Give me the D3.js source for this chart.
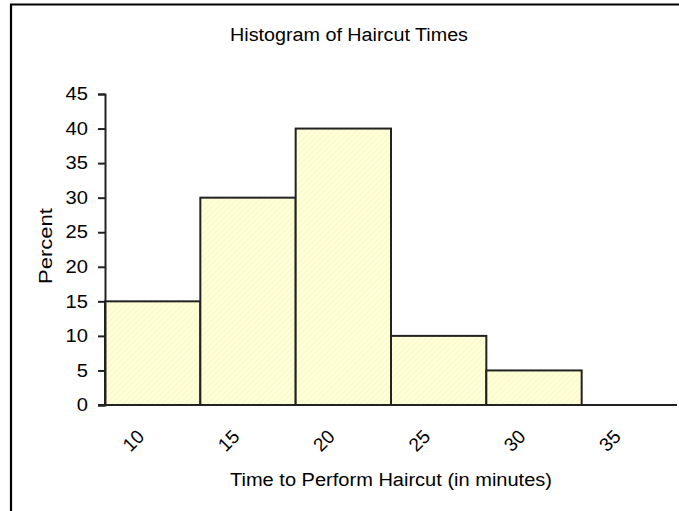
<!DOCTYPE html>
<html>
<head>
<meta charset="utf-8">
<script src="https://cdn.jsdelivr.net/npm/d3@7"></script>
<style>
  body { margin: 0; background: #fff; overflow: hidden; }
  svg { display: block; font-family: "Liberation Sans", Arial, sans-serif; }
</style>
</head>
<body>
<div id="chart"></div>
<script>
// data
const bins = ["10", "15", "20", "25", "30", "35"];
const percents = [15, 30, 40, 10, 5, 0];
const yTicks = [0, 5, 10, 15, 20, 25, 30, 35, 40, 45];

const width = 679, height = 511;
const plot = { left: 105, right: 677, top: 94, bottom: 405 };
const ink = "#222";

const svg = d3.select("#chart").append("svg")
    .attr("width", width)
    .attr("height", height);

// hatch fill for bars
const pat = svg.append("defs").append("pattern")
    .attr("id", "hatch")
    .attr("width", 4)
    .attr("height", 4)
    .attr("patternUnits", "userSpaceOnUse")
    .attr("patternTransform", "rotate(45)");
pat.append("rect").attr("width", 4).attr("height", 4).attr("fill", "#ffffd6");
pat.append("line")
    .attr("x1", 0).attr("y1", 0).attr("x2", 0).attr("y2", 4)
    .attr("stroke", "#f6f2c6")
    .attr("stroke-width", 1.2);

// frame: only the top and left edges fall inside the picture
svg.append("path")
    .attr("d", `M11,${height} V4.5 H${width}`)
    .attr("fill", "none")
    .attr("stroke", "#000")
    .attr("stroke-width", 2.2);

const x = d3.scaleBand().domain(bins).range([plot.left, plot.right]).padding(0);
const y = d3.scaleLinear().domain([0, 45]).range([plot.bottom, plot.top]);

// bars
svg.append("g").selectAll("rect")
    .data(bins.map((b, i) => ({ bin: b, v: percents[i] })).filter(d => d.v > 0))
    .join("rect")
    .attr("x", d => x(d.bin))
    .attr("y", d => y(d.v))
    .attr("width", x.bandwidth())
    .attr("height", d => y(0) - y(d.v))
    .attr("fill", "url(#hatch)")
    .attr("stroke", ink)
    .attr("stroke-width", 2);

// y axis
const yAxis = svg.append("g")
    .attr("transform", `translate(${plot.left},0)`)
    .call(d3.axisLeft(y).tickValues(yTicks).tickSize(7).tickPadding(10));
yAxis.select(".domain").attr("stroke", ink).attr("stroke-width", 2);
yAxis.selectAll(".tick line").attr("stroke", ink).attr("stroke-width", 2);
yAxis.selectAll(".tick text")
    .attr("x", -17 / 1.12)
    .attr("transform", "scale(1.12,1)")
    .attr("fill", "#000")
    .style("font-size", "18px");

// x axis baseline
svg.append("line")
    .attr("x1", plot.left - 7)
    .attr("x2", plot.right)
    .attr("y1", y(0))
    .attr("y2", y(0))
    .attr("stroke", ink)
    .attr("stroke-width", 2);

// x labels, rotated
svg.append("g").selectAll("text")
    .data(bins)
    .join("text")
    .attr("transform", d => `translate(${x(d) + x.bandwidth() / 2 - 12},433) rotate(-45)`)
    .attr("text-anchor", "end")
    .attr("dy", "0.35em")
    .attr("fill", "#000")
    .style("font-size", "19px")
    .text(d => d);

// titles
svg.append("text")
    .attr("x", 349).attr("y", 41)
    .attr("text-anchor", "middle")
    .attr("textLength", 238)
    .attr("lengthAdjust", "spacingAndGlyphs")
    .attr("fill", "#000")
    .style("font-size", "18px")
    .text("Histogram of Haircut Times");

svg.append("text")
    .attr("x", (plot.left + plot.right) / 2).attr("y", 486)
    .attr("text-anchor", "middle")
    .attr("textLength", 322)
    .attr("lengthAdjust", "spacingAndGlyphs")
    .attr("fill", "#000")
    .style("font-size", "18px")
    .text("Time to Perform Haircut (in minutes)");

svg.append("text")
    .attr("transform", "translate(52,246) rotate(-90)")
    .attr("text-anchor", "middle")
    .attr("textLength", 76)
    .attr("lengthAdjust", "spacingAndGlyphs")
    .attr("fill", "#000")
    .style("font-size", "18px")
    .text("Percent");
</script>
</body>
</html>
